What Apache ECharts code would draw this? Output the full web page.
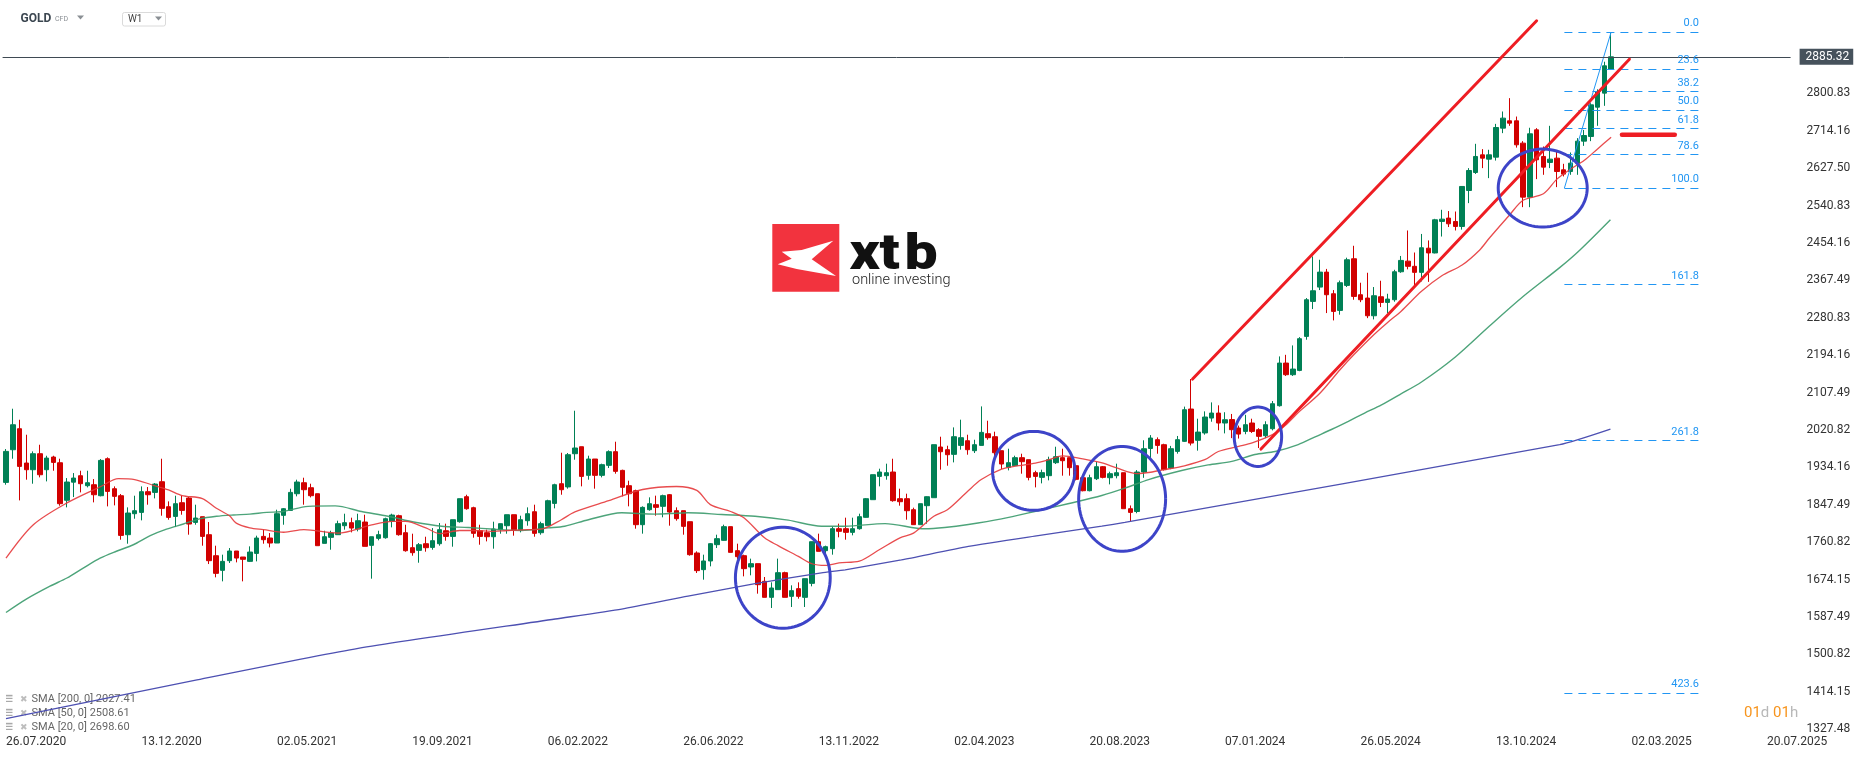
<!DOCTYPE html>
<html><head><meta charset="utf-8">
<script src="https://cdn.jsdelivr.net/npm/echarts@6/dist/echarts.min.js"></script>
<style>html,body{margin:0;padding:0;background:#fff}#c{width:1866px;height:759px}</style>
</head><body><div id="c"></div>
<script>
// ---------- data ----------
const weekCount = 264; // weekly categories from 26.07.2020
const xTickLabels = ['26.07.2020','13.12.2020','02.05.2021','19.09.2021','06.02.2022','26.06.2022','13.11.2022','02.04.2023','20.08.2023','07.01.2024','26.05.2024','13.10.2024','02.03.2025','20.07.2025'];
const yTickLabels = ['1327.48','1414.15','1500.82','1587.49','1674.15','1760.82','1847.49','1934.16','2020.82','2107.49','2194.16','2280.83','2367.49','2454.16','2540.83','2627.50','2714.16','2800.83'];
const yMin = 1327.48, yTop = 2800.83, yMax = 2993.8;

const opens = [
1899.5,1975.1,2023.8,1944.3,1928.8,1965.9,1928.8,1958.2,1945.0,1858.0,
1900.0,1914.9,1891.8,1894.1,1868.6,1954.3,1884.8,1868.6,1778.3,1826.9,
1830.0,1877.9,1876.3,1901.0,1843.1,1820.7,1852.4,1863.2,1806.8,1820.0,
1778.3,1729.6,1695.7,1718.1,1740.5,1726.6,1716.5,1735.0,1774.4,1770.6,
1759.0,1823.1,1834.6,1873.2,1898.7,1887.1,1873.2,1758.2,1772.1,1778.3,
1799.1,1806.1,1791.4,1807.6,1753.6,1769.8,1771.3,1809.2,1822.3,1782.9,
1748.2,1742.0,1757.4,1748.9,1757.4,1787.5,1774.4,1808.4,1866.3,1840.8,
1787.5,1782.9,1773.6,1789.9,1799.1,1824.6,1789.9,1810.7,1831.5,1782.9,
1799.1,1850.8,1896.4,1889.0,1965.9,1982.1,1915.8,1953.6,1915.8,1938.9,
1970.6,1927.3,1891.8,1880.2,1801.5,1836.2,1847.8,1844.0,1871.0,1833.9,
1833.9,1808.4,1735.9,1697.3,1717.4,1755.2,1765.2,1796.9,1741.3,1729.7,
1703.5,1711.2,1670.3,1633.2,1651.0,1690.3,1635.5,1653.3,1633.2,1665.6,
1762.1,1741.3,1745.9,1792.2,1792.2,1783.7,1792.2,1818.5,1859.4,1913.4,
1915.0,1923.5,1861.7,1861.7,1836.2,1801.5,1845.5,1864.0,1981.4,1975.2,
1964.4,1985.2,1996.0,1972.9,1985.2,2012.2,2005.3,1972.9,1934.3,1938.1,
1956.7,1952.0,1922.0,1911.1,1915.0,1945.1,1956.7,1956.7,1938.1,1910.3,
1880.2,1908.0,1935.8,1910.3,1915.0,1921.9,1838.5,1832.0,1923.5,1978.0,
1998.4,1986.8,1932.7,1971.3,1994.5,2069.4,1997.0,2014.0,2048.5,2060.0,
2037.0,2045.0,2025.4,2017.6,2037.0,2021.5,2007.6,2023.8,2077.1,2175.9,
2148.9,2158.9,2237.7,2318.7,2351.9,2386.6,2336.5,2297.9,2355.8,2417.5,
2334.2,2326.5,2285.5,2329.5,2316.4,2322.6,2387.4,2412.0,2400.0,2386.0,
2442.0,2431.0,2504.0,2511.7,2503.9,2492.4,2575.7,2617.4,2658.3,2648.3,
2652.9,2720.1,2737.1,2737.1,2685.4,2560.3,2716.2,2654.5,2640.6,2650.6,
2623.6,2619.7,2639.0,2690.0,2700.8,2768.7,2801.2,2856.7];
const closes = [
1971.3,2033.0,1936.5,1928.8,1965.9,1917.2,1955.8,1945.8,1850.1,1900.3,
1909.5,1896.4,1898.7,1870.9,1950.4,1878.6,1867.1,1776.7,1828.5,1833.9,
1877.9,1870.9,1895.6,1839.3,1818.4,1850.1,1834.6,1803.0,1816.9,1774.4,
1718.1,1688.7,1716.5,1740.5,1724.2,1721.2,1738.1,1770.6,1766.7,1759.0,
1826.9,1838.5,1876.3,1900.3,1882.5,1868.6,1752.8,1773.6,1782.1,1803.8,
1806.1,1793.7,1810.7,1751.3,1773.6,1778.3,1815.3,1823.8,1778.3,1741.2,
1736.6,1755.1,1748.2,1764.4,1789.9,1774.4,1813.0,1861.7,1838.5,1781.4,
1774.4,1773.6,1791.4,1803.8,1824.6,1789.9,1813.0,1826.9,1781.4,1803.8,
1857.0,1894.1,1882.5,1963.6,1979.1,1913.4,1953.6,1915.8,1940.5,1970.6,
1925.0,1888.0,1873.3,1801.5,1841.6,1850.1,1841.6,1868.7,1830.8,1815.4,
1797.6,1732.0,1695.0,1717.4,1757.5,1769.1,1796.9,1737.4,1727.4,1699.6,
1711.2,1662.5,1633.2,1654.8,1690.3,1633.2,1648.6,1635.5,1676.4,1762.1,
1739.7,1750.5,1792.2,1786.1,1783.7,1792.2,1820.0,1861.7,1917.3,1923.5,
1921.9,1857.1,1854.7,1833.9,1801.5,1850.1,1866.3,1986.8,1970.5,1963.6,
2005.3,2003.0,1975.2,1986.8,2015.3,2003.0,1968.2,1942.0,1945.1,1956.7,
1947.4,1911.1,1913.4,1922.0,1952.0,1959.0,1949.7,1933.5,1906.5,1880.2,
1910.3,1935.8,1911.1,1919.6,1921.9,1838.5,1830.0,1923.5,1977.5,2002.2,
1985.2,1928.9,1977.5,1998.4,2067.8,1990.6,2016.0,2050.9,2060.1,2037.0,
2044.6,2021.5,2011.4,2033.1,2017.6,2006.1,2033.1,2081.7,2175.9,2148.9,
2162.0,2232.3,2322.6,2343.4,2386.6,2334.2,2295.6,2362.0,2415.2,2330.3,
2322.6,2285.5,2331.9,2316.4,2324.1,2387.4,2413.7,2400.0,2386.0,2443.0,
2431.0,2507.8,2509.3,2498.5,2492.4,2585.0,2622.0,2654.5,2650.6,2658.3,
2721.6,2743.3,2731.7,2681.5,2560.3,2707.0,2646.8,2629.8,2648.3,2619.7,
2613.6,2639.0,2690.0,2703.0,2774.1,2805.0,2864.5,2885.32];
const lows = [
1894.1,1954.3,1857.8,1905.7,1896.4,1911.1,1901.8,1926.5,1845.4,1841.6,
1865.5,1876.3,1887.9,1853.2,1867.1,1843.9,1846.2,1766.7,1757.4,1815.3,
1811.5,1847.8,1862.4,1822.3,1813.0,1796.0,1824.6,1778.3,1801.4,1752.8,
1710.3,1679.5,1670.2,1712.7,1714.2,1670.2,1715.0,1716.5,1757.4,1748.9,
1759.0,1801.4,1834.6,1867.1,1847.8,1864.7,1752.8,1758.2,1743.5,1778.3,
1789.9,1783.7,1786.0,1751.3,1676.4,1765.2,1769.0,1795.3,1776.0,1738.9,
1729.6,1713.4,1738.9,1743.5,1752.8,1764.4,1750.5,1806.1,1836.2,1771.3,
1755.1,1762.8,1745.9,1780.6,1780.6,1776.0,1783.7,1799.1,1773.6,1778.3,
1799.1,1839.3,1870.9,1884.9,1952.0,1890.3,1905.7,1884.9,1911.1,1932.7,
1919.6,1867.1,1844.0,1792.2,1780.7,1833.9,1822.3,1818.5,1799.2,1810.8,
1778.3,1729.7,1689.6,1674.1,1705.0,1747.5,1764.4,1737.4,1722.0,1681.8,
1684.2,1641.7,1633.2,1608.5,1651.0,1633.2,1610.8,1630.1,1610.8,1658.7,
1739.7,1732.0,1732.0,1772.2,1766.7,1776.8,1789.9,1817.7,1859.4,1890.3,
1905.7,1854.7,1845.5,1813.1,1801.5,1801.5,1803.8,1864.0,1928.9,1938.1,
1945.8,1975.2,1963.6,1967.5,1985.2,1998.3,1953.6,1930.4,1927.3,1938.1,
1919.6,1904.2,1887.9,1897.2,1904.2,1942.0,1915.0,1915.0,1904.2,1878.7,
1878.7,1904.9,1908.8,1894.9,1908.8,1838.5,1810.0,1828.0,1910.0,1954.0,
1965.9,1927.0,1930.0,1966.0,1993.0,1985.0,1973.0,2010.0,2040.0,2020.0,
2013.0,2002.0,2001.0,2011.0,2014.0,1979.0,2002.0,2020.0,2075.0,2146.0,
2146.0,2157.0,2230.0,2301.0,2345.0,2291.7,2274.7,2288.0,2352.0,2322.6,
2317.0,2280.0,2277.0,2305.6,2291.7,2318.0,2385.0,2393.0,2353.0,2365.0,
2364.0,2430.0,2469.0,2491.0,2483.0,2485.0,2546.4,2614.0,2627.5,2604.3,
2645.0,2708.5,2725.5,2675.0,2537.1,2537.0,2602.0,2612.0,2627.5,2583.5,
2608.2,2612.0,2612.0,2679.0,2690.0,2725.5,2771.8,2855.0];
const highs = [
1976.7,2070.1,2044.6,2009.9,1971.3,1986.7,1961.2,1961.2,1954.3,1909.5,
1921.1,1926.5,1926.5,1907.2,1953.5,1957.4,1890.2,1872.5,1841.6,1868.6,
1890.2,1888.7,1897.9,1954.3,1855.5,1868.6,1868.6,1865.5,1847.8,1820.0,
1807.6,1752.8,1732.0,1747.4,1740.5,1726.6,1751.3,1776.0,1789.9,1782.1,
1836.2,1840.1,1884.8,1905.7,1910.3,1896.4,1873.2,1787.5,1787.5,1810.7,
1826.9,1817.7,1826.9,1824.6,1773.6,1787.5,1817.7,1826.9,1824.6,1801.4,
1780.6,1759.0,1773.6,1793.7,1805.3,1803.8,1813.0,1861.7,1870.9,1843.1,
1801.4,1789.9,1808.4,1803.8,1824.6,1824.6,1822.3,1841.6,1847.8,1808.4,
1859.3,1896.4,1968.2,1967.5,2065.5,1982.1,1961.3,1953.6,1942.8,1973.7,
1993.7,1928.9,1903.4,1882.6,1844.0,1864.8,1868.7,1871.0,1872.5,1841.6,
1833.9,1808.4,1739.7,1732.0,1759.0,1778.3,1801.5,1796.9,1757.5,1732.0,
1722.8,1711.2,1680.3,1667.9,1722.8,1692.6,1661.0,1667.9,1676.4,1762.1,
1780.7,1752.9,1796.9,1803.8,1817.7,1817.7,1827.0,1863.2,1917.3,1931.2,
1942.8,1954.3,1884.9,1873.3,1840.9,1850.1,1867.1,1986.8,2005.3,1984.4,
2026.9,2044.7,2009.9,1998.3,2075.5,2042.3,2016.9,1972.9,1977.5,1961.3,
1965.9,1952.0,1926.5,1928.9,1959.0,1982.1,1977.5,1956.7,1938.1,1917.3,
1917.3,1946.6,1937.3,1924.2,1942.8,1921.9,1846.0,1928.0,1997.0,2009.0,
2003.7,1989.0,1984.0,2007.0,2075.0,2138.8,2047.0,2064.0,2084.8,2078.0,
2062.0,2058.0,2031.0,2056.0,2047.0,2025.0,2041.0,2088.0,2191.3,2195.0,
2216.8,2236.0,2326.5,2422.9,2415.2,2394.0,2345.0,2367.0,2420.0,2447.6,
2362.0,2385.1,2352.0,2366.6,2336.5,2392.0,2424.0,2483.0,2432.0,2475.0,
2460.0,2510.0,2531.0,2528.0,2527.0,2586.0,2627.5,2683.8,2671.5,2670.0,
2730.0,2758.7,2789.6,2747.0,2690.0,2721.0,2720.1,2677.6,2725.5,2668.4,
2637.5,2663.7,2697.0,2716.0,2778.0,2810.0,2874.0,2942.4];
const lastPrice = 2885.32;

// moving averages: [week index, value]
const sma20 = [[0,1724],[4,1801],[9,1852],[14,1890],[16.6,1908],[19,1906],[21.5,1894],[24,1882],[26,1869],[29,1862],[31,1840],[33,1822],[34,1805],[36,1794],[38,1790],[41,1784],[44,1790],[49,1782],[54,1801],[57,1809],[59,1809],[62,1794],[64,1781],[67,1788],[69,1788],[72,1786],[74,1788],[77,1790],[79,1791],[82,1813],[84,1831],[89,1857],[94,1883],[99,1890],[102,1881],[104,1848],[107,1832],[109,1817],[112,1771],[114,1753],[117,1728],[119,1711],[121,1707],[123,1713],[126,1717],[129,1744],[132,1771],[134,1782],[137,1821],[139,1836],[142,1879],[144,1906],[147,1930],[149,1937],[152,1944],[154,1952],[156,1961],[159,1954],[162,1944],[164,1933],[167,1920],[169,1923],[171,1929],[174,1938],[177,1952],[179,1971],[182,1983],[184,1991],[187,2010],[189,2033],[191,2064],[194,2106],[197,2161],[199,2195],[202,2242],[204,2270],[206,2296],[209,2342],[212,2378],[215,2403],[217.6,2438],[219,2465],[222,2519],[224,2553],[227,2568],[229,2602],[231,2625],[233,2645],[235,2672],[237,2699]];
const sma50 = [[0,1598],[3,1629],[6.5,1659],[9,1678],[11.4,1701],[13.9,1724],[16.3,1740],[18.8,1755],[21.3,1776],[23.7,1791],[26.2,1803],[28.6,1815],[31.1,1821],[33.6,1824],[36,1826],[38.5,1830],[40.9,1832],[44.6,1844],[48.6,1845],[52.5,1832],[56.4,1821],[60.4,1807],[64.3,1798],[68.3,1795],[72.2,1791],[76.1,1788],[80.1,1794],[82.5,1798],[86,1813],[90.9,1829],[95.8,1826],[100.7,1829],[105.7,1825],[110.6,1821],[115.5,1812],[120.4,1798],[123.9,1798],[129.8,1804],[135.7,1792],[138.6,1795],[142.1,1802],[147,1815],[151.9,1832],[156.8,1850],[161.8,1869],[165.2,1886],[168.7,1906],[173.6,1927],[177.5,1940],[181,1948],[184.4,1964],[187.4,1971],[190.8,1987],[193.3,2005],[195.7,2022],[198.2,2041],[200.6,2060],[203.1,2079],[205.8,2103],[209,2132],[214,2190],[219,2261],[224,2330],[229.4,2397],[232.4,2438],[236.9,2508]];
const sma200 = [[0,1352],[28.2,1442],[52,1515],[81.1,1583],[90.9,1606],[100.7,1636],[110.6,1665],[120.4,1690],[123.9,1697],[132.2,1720],[142.1,1751],[151.9,1775],[161.8,1798],[165.2,1807],[229.4,1987],[236.9,2023]];
const legendTexts = ['SMA [200, 0] 2027.41','SMA [50, 0] 2508.61','SMA [20, 0] 2698.60'];

// drawings: [week index, price]
const upperChannel = [[175.2,2138.8],[226.0,2968.7]];
const lowerChannel = [[185.3,1976.7],[239.7,2879.9]];
const supportLine = [[238.6,2704.7],[246.4,2704.7]];
const fibLevels = [0,23.6,38.2,50,61.8,78.6,100,161.8,261.8,423.6];
const fibHigh = 2942.6, fibLow = 2581.3;
const fibSpan = [230.1, 250.4];
const fibAnchor = [[230.1,2581.3],[237.0,2942.6]];
// ellipses: [centre week, centre price, radius in weeks, radius in price]
const circles = [[114.7,1678.7,7.0,117],[151.75,1926.1,6.08,91.5],[164.8,1861.2,6.42,121.6],[184.85,2005.3,3.5,68.8],[226.9,2581.3,6.57,90.3]];

// ---------- build ----------
function fmt(d){return String(d.getUTCDate()).padStart(2,'0')+'.'+String(d.getUTCMonth()+1).padStart(2,'0')+'.'+d.getUTCFullYear();}
const t0 = Date.UTC(2020,6,26);
const categories = Array.from({length: weekCount}, (_, i) => fmt(new Date(t0 + i*7*864e5)));
const candles = opens.map((o,i)=>[o, closes[i], lows[i], highs[i]]);
const yStep = (yTop - yMin) / (yTickLabels.length - 1);

const GREEN = '#008055', RED = '#d10000', FIB = '#2196f3', DRAW = '#ee1d23', CIRC = '#3d44c8';
const FONT = 'Roboto';

const chart = echarts.init(document.getElementById('c'));
const fibLines = fibLevels.map(l => {
  const p = fibHigh - l/100*(fibHigh - fibLow);
  const txt = l.toFixed(1);
  return [{coord:[fibSpan[0], p], label:{formatter: txt}}, {coord:[fibSpan[1], p], label:{formatter: txt}}];
});

const option = {
  animation: false,
  backgroundColor: '#ffffff',
  grid: {left: 2.6, top: 10, width: 1788, height: 719.3, containLabel: false, outerBoundsMode: 'none'},
  xAxis: [
    {type:'category', data: categories, boundaryGap: true,
     axisLine:{show:false}, axisTick:{show:false}, splitLine:{show:false},
     axisLabel:{interval: 19, align:'left', margin: 7, color:'#333', fontSize: 12, fontFamily: FONT,
       formatter: (v, i) => (i % 20 === 0 && xTickLabels[i/20]) ? xTickLabels[i/20] : ''}},
    {type:'value', min: -0.5, max: weekCount - 0.5, show: false}
  ],
  yAxis: [{type:'value', position:'right', min: yMin, max: yMax, interval: yStep,
    axisLine:{show:false}, axisTick:{show:false}, splitLine:{show:false},
    axisLabel:{margin: 16, color:'#333', fontSize: 12, fontFamily: FONT, showMaxLabel: false,
      formatter: v => { const k = Math.round((v - yMin)/yStep); return (k >= 0 && k < yTickLabels.length && Math.abs(v - (yMin + k*yStep)) < 1) ? yTickLabels[k] : ''; }}}],
  series: [
    {type:'candlestick', name:'GOLD', xAxisIndex:0, yAxisIndex:0, data: candles, barWidth: 5,
     itemStyle:{color: GREEN, color0: RED, borderColor: GREEN, borderColor0: RED, borderWidth: 1},
     markLine:{silent:true, symbol:['none','none'], animation:false,
       lineStyle:{color:'#3f4a53', width:1, type:'solid'},
       label:{show:true, position:'end', distance: 9, formatter: lastPrice.toFixed(2), color:'#fff',
              backgroundColor:'#46525c', padding:[2,4,2,6], fontSize:12, fontFamily: FONT},
       data:[{yAxis: lastPrice}]}},
    {type:'line', name:'SMA200', xAxisIndex:1, data: sma200, smooth: 0.2, symbol:'none',
     lineStyle:{color:'#4d50b2', width:1.3}, z: 3},
    {type:'line', name:'SMA50', xAxisIndex:1, data: sma50, smooth: 0.3, symbol:'none',
     lineStyle:{color:'#3a9a6c', width:1.4, opacity:0.9}, z: 3},
    {type:'line', name:'SMA20', xAxisIndex:1, data: sma20, smooth: 0.3, symbol:'none',
     lineStyle:{color:'#e5393b', width:1.3, opacity:0.9}, z: 3},
    {type:'line', name:'fib', xAxisIndex:1, data: fibAnchor, symbol:'none', clip:false,
     lineStyle:{color: FIB, width:1}, z: 4,
     markLine:{silent:true, symbol:['none','none'], animation:false,
       lineStyle:{color: FIB, width:1.2, type:[8,6]},
       label:{show:true, position:'insideEndTop', distance: 3, color: FIB, fontSize: 11, fontFamily: FONT},
       data: fibLines},
     markPoint:{silent:true, animation:false, symbol:'triangle', symbolSize:[16,7], symbolRotate: 90,
       itemStyle:{color:'#46525c'}, label:{show:false},
       data:[{coord:[weekCount + 0.4, lastPrice]}]}},
    {type:'line', name:'upper', xAxisIndex:1, data: upperChannel, symbol:'none', clip:false,
     lineStyle:{color: DRAW, width:3, cap:'round'}, z: 5},
    {type:'line', name:'lower', xAxisIndex:1, data: lowerChannel, symbol:'none', clip:false,
     lineStyle:{color: DRAW, width:3, cap:'round'}, z: 5},
    {type:'line', name:'support', xAxisIndex:1, data: supportLine, symbol:'none', clip:false,
     lineStyle:{color: DRAW, width:4.5, cap:'round'}, z: 5},
    {type:'custom', name:'circles', xAxisIndex:1, yAxisIndex:0, data: circles, clip:false, z: 6,
     encode:{x:0, y:1},
     renderItem: (params, api) => {
       const cx = api.value(0), cy = api.value(1), rx = api.value(2), ry = api.value(3);
       const pts = [];
       for (let k = 0; k <= 90; k++) { const t = k/90*Math.PI*2; pts.push(api.coord([cx + rx*Math.cos(t), cy + ry*Math.sin(t)])); }
       return {type:'polyline', shape:{points: pts}, style:{stroke: CIRC, lineWidth: 3, fill: null}};
     }}
  ],
  graphic: [
    // header
    {type:'text', x:20.5, y:18.5, style:{text:'GOLD', fontFamily:FONT, fontWeight:'bold', fontSize:12, fill:'#3b4650', verticalAlign:'middle'}},
    {type:'text', x:55, y:19.5, style:{text:'CFD', fontFamily:FONT, fontSize:7, fill:'#8a8f94', verticalAlign:'middle'}},
    {type:'polygon', shape:{points:[[77,15.5],[84,15.5],[80.5,19.5]]}, style:{fill:'#8a8f94'}},
    {type:'rect', shape:{x:122.5, y:12.5, width:43, height:13.5, r:2}, style:{fill:'#fff', stroke:'#dadada', lineWidth:1}},
    {type:'text', x:128, y:19.5, style:{text:'W1', fontFamily:FONT, fontSize:10, fill:'#444', verticalAlign:'middle'}},
    {type:'polygon', shape:{points:[[155,16.5],[162,16.5],[158.5,20.5]]}, style:{fill:'#8a8f94'}},
    // logo
    {type:'rect', shape:{x:772.3, y:224, width:67, height:67.7}, style:{fill:'#f2333e'}},
    {type:'polygon', shape:{points:[[781.7,251.7],[801.7,250],[833.3,240.7],[811.7,259.3],[836,276],[796.7,269],[777.7,264.3],[791.7,258.7]]}, style:{fill:'#fff'}},
    {type:'text', x:849.5, y:256, scaleX:1.18, style:{text:'x', fontFamily:FONT, fontWeight:900, fontSize:50, fill:'#111', verticalAlign:'middle'}},
    {type:'text', x:879.5, y:256, scaleX:1.18, style:{text:'t', fontFamily:FONT, fontWeight:900, fontSize:50, fill:'#111', verticalAlign:'middle'}},
    {type:'text', x:904.5, y:256, scaleX:1.18, style:{text:'b', fontFamily:FONT, fontWeight:900, fontSize:50, fill:'#111', verticalAlign:'middle'}},
    {type:'text', x:852, y:280, style:{text:'online investing', fontFamily:FONT, fontWeight:300, fontSize:14.5, fill:'#222', verticalAlign:'middle'}},
    // indicator legend
    ...legendTexts.flatMap((t, i) => {
      const y = 699.3 + i*14;
      return [
        {type:'rect', shape:{x:6, y:y-4.5, width:6.5, height:1.6}, style:{fill:'#a9a9a9'}},
        {type:'rect', shape:{x:6, y:y-1.5, width:6.5, height:1.2}, style:{fill:'#a9a9a9'}},
        {type:'rect', shape:{x:6, y:y+1.5, width:6.5, height:1.2}, style:{fill:'#a9a9a9'}},
        {type:'text', x:20, y:y, style:{text:'✖', fontSize:9, fill:'#bdbdbd', verticalAlign:'middle'}},
        {type:'text', x:31.5, y:y, style:{text:t, fontFamily:FONT, fontSize:11, fill:'#666', verticalAlign:'middle'}}
      ];
    }),
    // countdown
    {type:'text', x:1744, y:713, style:{text:'{o|01}{g|d} {o|01}{g|h}', fontFamily:FONT, fontSize:15, verticalAlign:'middle',
      rich:{o:{fill:'#f7941d', fontSize:15, fontFamily:FONT}, g:{fill:'#b8b8b8', fontSize:15, fontFamily:FONT}}}}
  ]
};
chart.setOption(option);
</script>
</body></html>
